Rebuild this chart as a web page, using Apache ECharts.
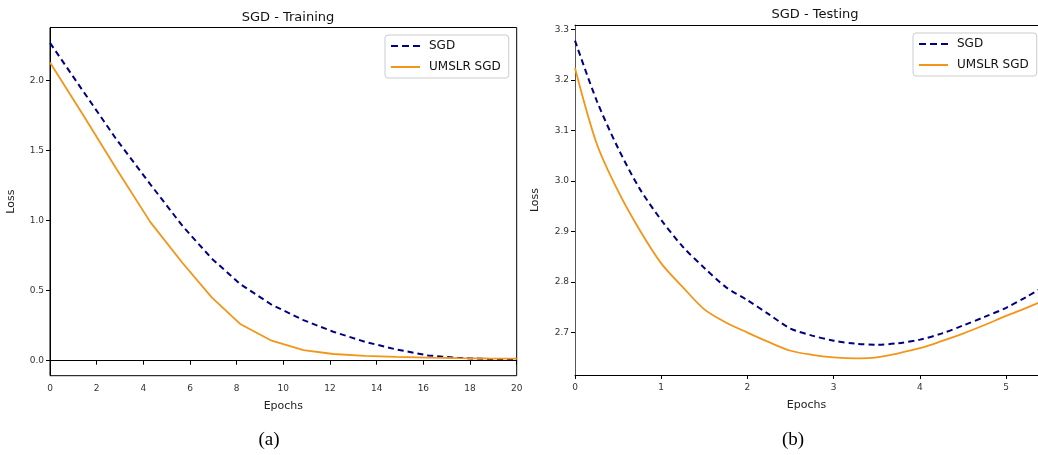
<!DOCTYPE html>
<html>
<head>
<meta charset="utf-8">
<script src="https://cdn.jsdelivr.net/npm/echarts@6/dist/echarts.min.js"></script>
<style>
html,body{margin:0;padding:0;background:#fff;}
#chart{width:1038px;height:455px;}
</style>
</head>
<body>
<div id="chart"></div>
<script>
// ---- Data ----
const seriesNames = ['SGD', 'UMSLR SGD'];

const trainEpochs = [0, 1.4, 2.85, 4.3, 5.69, 6.93, 8.17, 9.5, 10.86, 12.14, 13.5, 14.85, 16.2, 17.5, 18.8, 20];
const trainSGD    = [2.27, 1.93, 1.58, 1.26, 0.96, 0.73, 0.545, 0.40, 0.29, 0.207, 0.135, 0.08, 0.038, 0.02, 0.012, 0.008];
const trainUMSLR  = [2.13, 1.76, 1.37, 0.99, 0.696, 0.453, 0.26, 0.143, 0.076, 0.048, 0.035, 0.028, 0.022, 0.018, 0.016, 0.015];

const testEpochs = [0, 0.25, 0.5, 0.75, 1, 1.25, 1.5, 1.75, 2, 2.25, 2.5, 2.75, 3, 3.25, 3.5, 3.75, 4, 4.25, 4.5, 4.75, 5, 5.25, 5.5];
const testSGD    = [3.278, 3.16, 3.065, 2.985, 2.923, 2.87, 2.828, 2.79, 2.764, 2.736, 2.708, 2.694, 2.684, 2.678, 2.676, 2.679, 2.686, 2.698, 2.714, 2.731, 2.749, 2.772, 2.797];
const testUMSLR  = [3.224, 3.075, 2.98, 2.903, 2.837, 2.79, 2.746, 2.72, 2.70, 2.681, 2.664, 2.656, 2.651, 2.649, 2.651, 2.659, 2.669, 2.683, 2.698, 2.715, 2.733, 2.75, 2.768];

const trainXTicks = [0, 2, 4, 6, 8, 10, 12, 14, 16, 18, 20];
const trainYTicks = [0, 0.5, 1.0, 1.5, 2.0];
const testXTicks  = [0, 1, 2, 3, 4, 5];
const testYTicks  = [2.7, 2.8, 2.9, 3.0, 3.1, 3.2, 3.3];

// ---- Styles ----
const NAVY = '#000080';
const ORANGE = '#f39518';
const FONT = 'DejaVu Sans';
const DASH_ICON = 'path://M0,0h7v2h-7z M11,0h7v2h-7z M22,0h7v2h-7z';
const LINE_ICON = 'path://M0,0h29v2h-29z';

function pairs(xs, ys) { return xs.map((x, i) => [x, ys[i]]); }

const labelBase = { fontFamily: FONT, fontSize: 9, color: '#333', margin: 6 };
const tickBase = { show: true, inside: false, length: 4, lineStyle: { color: '#000' } };

function axis(extra, ticks, isY, lineColor) {
  return Object.assign({
    type: 'value',
    axisLine: { show: true, lineStyle: { color: lineColor || '#000', width: 1 } },
    axisTick: Object.assign({}, tickBase, { customValues: ticks }),
    splitLine: { show: false },
    axisLabel: Object.assign({}, labelBase, {
      customValues: ticks, margin: isY ? 6 : 8,
      formatter: isY ? (v => Number(v).toFixed(1)) : (v => String(Math.round(v)))
    }),
    nameTextStyle: { fontFamily: FONT, fontSize: 11, color: '#222' }
  }, extra);
}

function legendAt(left, top) {
  return {
    data: [{ name: 'SGD', icon: DASH_ICON }, { name: 'UMSLR SGD', icon: LINE_ICON }],
    orient: 'vertical', left: left, top: top,
    itemWidth: 29, itemHeight: 2, itemGap: 9, padding: [5, 8, 5, 6],
    borderColor: '#ccc', borderWidth: 1, borderRadius: 3, backgroundColor: '#fff',
    textStyle: { fontFamily: FONT, fontSize: 12, color: '#111', padding: [0, 0, 0, 4] }
  };
}

const chart = echarts.init(document.getElementById('chart'), null, { renderer: 'canvas' });

const option = {
  backgroundColor: '#fff',
  animation: false,
  title: [
    { text: 'SGD - Training', left: 283, top: 6, textAlign: 'center',
      textStyle: { fontFamily: FONT, fontSize: 13, fontWeight: 'normal', color: '#111' } },
    { text: 'SGD - Testing', left: 810, top: 3, textAlign: 'center',
      textStyle: { fontFamily: FONT, fontSize: 13, fontWeight: 'normal', color: '#111' } },
    { text: '(a)', left: 264, top: 426, textAlign: 'center',
      textStyle: { fontFamily: 'Liberation Serif', fontSize: 19, fontWeight: 'normal', color: '#000' } },
    { text: '(b)', left: 788, top: 426, textAlign: 'center',
      textStyle: { fontFamily: 'Liberation Serif', fontSize: 19, fontWeight: 'normal', color: '#000' } }
  ],
  legend: [ legendAt(385, 35), legendAt(913, 33) ],
  grid: [
    { left: 50, top: 27.5, right: 521.3, bottom: 79.3, show: true, borderColor: '#000', borderWidth: 1,
      backgroundColor: 'transparent', outerBoundsMode: 'none' },
    { left: 575, top: 25, right: 0, bottom: 80, show: false, outerBoundsMode: 'none' }
  ],
  xAxis: [
    axis({ gridIndex: 0, min: 0, max: 20, name: 'Epochs', nameLocation: 'middle', nameGap: 25 }, trainXTicks, false),
    axis({ gridIndex: 1, min: 0, max: 5.37, name: 'Epochs', nameLocation: 'middle', nameGap: 25 }, testXTicks, false),
    // top frame line of the right panel
    {
      gridIndex: 1, type: 'value', position: 'top', min: 0, max: 5.37,
      axisLine: { show: true, lineStyle: { color: '#000', width: 1 } },
      axisTick: { show: false }, axisLabel: { show: false }, splitLine: { show: false }
    }
  ],
  yAxis: [
    axis({ gridIndex: 0, min: -0.107, max: 2.38, name: 'Loss', nameLocation: 'middle', nameGap: 33 }, trainYTicks, true),
    axis({ gridIndex: 1, min: 2.616, max: 3.309, name: 'Loss', nameLocation: 'middle', nameGap: 34 }, testYTicks, true, '#555')
  ],
  series: [
    { name: 'SGD', type: 'line', xAxisIndex: 0, yAxisIndex: 0, data: pairs(trainEpochs, trainSGD),
      symbol: 'none', lineStyle: { color: NAVY, width: 2, type: [6, 4] }, itemStyle: { color: NAVY } },
    { name: 'UMSLR SGD', type: 'line', xAxisIndex: 0, yAxisIndex: 0, data: pairs(trainEpochs, trainUMSLR),
      symbol: 'none', lineStyle: { color: ORANGE, width: 1.8 }, itemStyle: { color: ORANGE } },
    { name: 'SGD', type: 'line', xAxisIndex: 1, yAxisIndex: 1, data: pairs(testEpochs, testSGD),
      symbol: 'none', smooth: 0.3, lineStyle: { color: NAVY, width: 2, type: [6, 4] }, itemStyle: { color: NAVY } },
    { name: 'UMSLR SGD', type: 'line', xAxisIndex: 1, yAxisIndex: 1, data: pairs(testEpochs, testUMSLR),
      symbol: 'none', smooth: 0.3, lineStyle: { color: ORANGE, width: 1.8 }, itemStyle: { color: ORANGE } }
  ]
};

chart.setOption(option);
</script>
</body>
</html>
